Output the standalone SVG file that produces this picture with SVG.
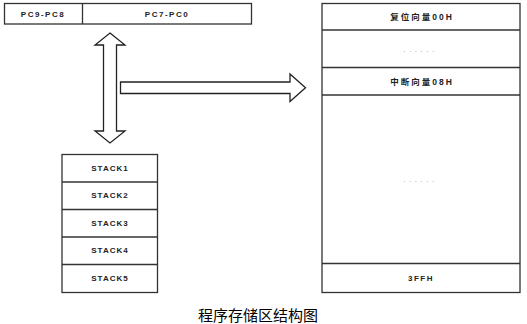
<svg xmlns="http://www.w3.org/2000/svg" width="527" height="324" viewBox="0 0 527 324">
<style>
.box{fill:#fff;stroke:#333;stroke-width:1.3}
.ln{stroke:#333;stroke-width:1.3;fill:none}
.t{font-family:"Liberation Sans","Noto Sans CJK SC",sans-serif;font-size:8px;font-weight:bold;fill:#222;text-anchor:middle;dominant-baseline:central;letter-spacing:1.5px}
.tc{font-family:"Liberation Sans","Noto Sans CJK SC",sans-serif;font-size:8.5px;font-weight:bold;fill:#222;text-anchor:middle;dominant-baseline:central;letter-spacing:2px}
.dots{font-family:"Liberation Sans",sans-serif;font-size:8px;fill:#999;text-anchor:middle;dominant-baseline:central;letter-spacing:3.5px}
.arrow{fill:#fff;stroke:#222;stroke-width:1.3;stroke-linejoin:miter}
.cap{font-family:"Noto Sans CJK SC","Liberation Sans",sans-serif;font-size:15px;fill:#000;text-anchor:middle;dominant-baseline:central}
</style>
<rect width="527" height="324" fill="#fff"/>
<g id="pc-register">
<rect class="box" x="4.5" y="3.5" width="247" height="20.5"/>
<line class="ln" x1="82.5" y1="3.5" x2="82.5" y2="24"/>
<text class="t" x="43" y="14">PC9-PC8</text>
<text class="t" x="167" y="14">PC7-PC0</text>
</g>
<g id="connectors">
<polygon class="arrow" points="110,33 125,45 116.5,45 116.5,131 125,131 110,143 95,131 103.5,131 103.5,45 95,45"/>
<polygon class="arrow" points="120.5,82 290,82 290,74 305.5,87.8 290,101.5 290,93.5 120.5,93.5"/>
</g>
<g id="stack">
<rect class="box" x="62" y="154.5" width="95.5" height="138"/>
<line class="ln" x1="62" y1="182" x2="157.5" y2="182"/>
<line class="ln" x1="62" y1="209.5" x2="157.5" y2="209.5"/>
<line class="ln" x1="62" y1="237" x2="157.5" y2="237"/>
<line class="ln" x1="62" y1="264.5" x2="157.5" y2="264.5"/>
<text class="t" x="110" y="168.2" style="letter-spacing:1px">STACK1</text>
<text class="t" x="110" y="195.7" style="letter-spacing:1px">STACK2</text>
<text class="t" x="110" y="223.2" style="letter-spacing:1px">STACK3</text>
<text class="t" x="110" y="250.7" style="letter-spacing:1px">STACK4</text>
<text class="t" x="110" y="278.3" style="letter-spacing:1px">STACK5</text>
</g>
<g id="program-memory">
<rect class="box" x="322" y="3.5" width="198" height="289"/>
<line class="ln" x1="322" y1="30" x2="520" y2="30"/>
<line class="ln" x1="322" y1="67.5" x2="520" y2="67.5"/>
<line class="ln" x1="322" y1="95" x2="520" y2="95"/>
<line class="ln" x1="322" y1="263.5" x2="520" y2="263.5"/>
<text class="tc" x="422" y="17">复位向量00H</text>
<text class="dots" x="420.5" y="49">......</text>
<text class="tc" x="422" y="81.5">中断向量08H</text>
<text class="dots" x="420.5" y="179.5">......</text>
<text class="t" x="421" y="278.3">3FFH</text>
</g>
<text class="cap" x="258" y="314.5">程序存储区结构图</text>
</svg>
